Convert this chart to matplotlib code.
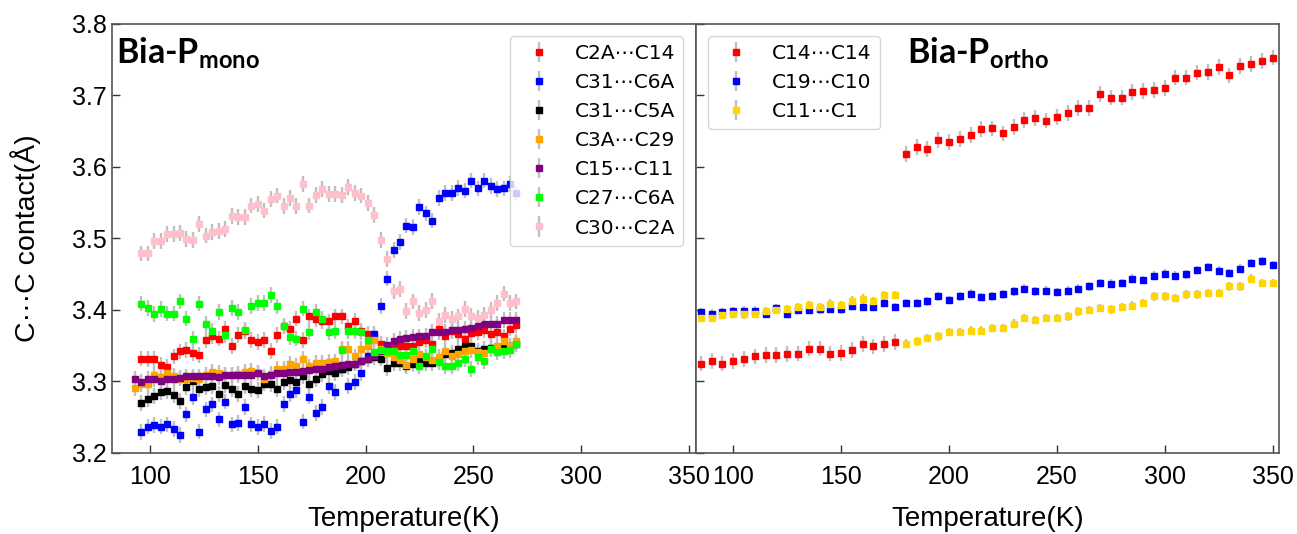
import numpy as np
import matplotlib.pyplot as plt

plt.rcParams["font.family"] = ["Liberation Sans", "DejaVu Sans"]
plt.rcParams["mathtext.fontset"] = "custom"
plt.rcParams["mathtext.rm"] = "Lato"
plt.rcParams["mathtext.bf"] = "Lato:bold"

nan = np.nan

# temperature grids (K)
temp_mono = list(range(93, 271, 3))
temp_ortho = list(range(85, 351, 5))

# Bia-P mono contacts (Angstrom)
c2a_c14 = [nan, 3.332, 3.331, 3.331, 3.323, 3.320, 3.335, 3.342, 3.344, 3.340,
           3.337, 3.358, 3.364, 3.360, 3.373, 3.350, 3.365, 3.370, 3.358, 3.355,
           3.358, 3.343, 3.365, 3.378, 3.373, 3.388, 3.358, 3.391, 3.387, 3.384,
           3.384, 3.391, 3.391, 3.377, 3.385, 3.371, 3.367, 3.362, 3.352, 3.348,
           3.350, 3.350, 3.349, 3.349, 3.355, 3.358, 3.353, 3.374, 3.364, 3.370,
           3.366, 3.359, 3.368, 3.369, 3.372, 3.366, 3.369, 3.363, 3.374, 3.379]
c31_c6a = [nan, 3.229, 3.237, 3.239, 3.237, 3.240, 3.234, 3.225, 3.254, 3.278,
           3.230, 3.261, 3.268, 3.247, 3.272, 3.240, 3.242, 3.264, 3.240, 3.236,
           3.241, 3.231, 3.237, 3.269, 3.282, 3.288, 3.244, 3.279, 3.256, 3.264,
           3.294, 3.285, 3.318, 3.294, 3.299, 3.312, 3.335, 3.366, 3.406, 3.444,
           3.484, 3.495, 3.518, 3.516, 3.544, 3.535, 3.525, 3.557, 3.564, 3.564,
           3.571, 3.567, 3.581, 3.570, 3.581, 3.573, 3.569, 3.570, 3.576, 3.563]
c31_c5a = [nan, 3.270, 3.275, 3.280, 3.285, 3.286, 3.281, 3.273, 3.292, 3.301,
           3.290, 3.292, 3.294, 3.282, 3.295, 3.289, 3.283, 3.294, 3.290, 3.288,
           3.297, 3.296, 3.290, 3.299, 3.302, 3.299, 3.308, 3.297, 3.303, 3.310,
           3.315, 3.312, 3.317, 3.320, 3.325, 3.329, 3.331, 3.334, 3.332, 3.319,
           3.326, 3.326, 3.322, 3.324, 3.329, 3.326, 3.326, 3.330, 3.338, 3.340,
           3.346, 3.349, 3.350, 3.343, 3.346, 3.347, 3.345, 3.348, 3.350, 3.352]
c3a_c29 = [3.291, 3.296, 3.297, 3.309, 3.306, 3.312, 3.308, 3.304, 3.304, 3.305,
           3.304, 3.309, 3.313, 3.312, 3.309, 3.309, 3.311, 3.313, 3.315, 3.312,
           3.304, 3.310, 3.318, 3.318, 3.325, 3.322, 3.331, 3.321, 3.326, 3.326,
           3.327, 3.328, 3.345, 3.345, 3.335, 3.345, 3.349, 3.358, 3.345, 3.340,
           3.334, 3.330, 3.323, 3.331, 3.339, 3.334, 3.330, 3.334, 3.343, 3.335,
           3.338, 3.342, 3.344, 3.341, 3.340, 3.345, 3.350, 3.357, 3.350, 3.356]
c15_c11 = [3.303, 3.299, 3.303, 3.303, 3.301, 3.303, 3.303, 3.305, 3.307, 3.307,
           3.307, 3.307, 3.307, 3.306, 3.309, 3.309, 3.309, 3.309, 3.309, 3.312,
           3.307, 3.309, 3.312, 3.312, 3.313, 3.313, 3.315, 3.316, 3.318, 3.318,
           3.320, 3.322, 3.323, 3.325, 3.325, 3.329, 3.332, 3.335, 3.343, 3.351,
           3.357, 3.360, 3.361, 3.362, 3.363, 3.364, 3.369, 3.369, 3.369, 3.372,
           3.372, 3.374, 3.375, 3.378, 3.380, 3.381, 3.381, 3.386, 3.386, 3.386]
c27_c6a = [nan, 3.409, 3.403, 3.394, 3.401, 3.395, 3.395, 3.412, 3.388, 3.359,
           3.409, 3.380, 3.371, 3.397, 3.365, 3.403, 3.397, 3.372, 3.406, 3.410,
           3.410, 3.421, 3.405, 3.377, 3.362, 3.360, 3.402, 3.369, 3.397, 3.388,
           3.369, 3.371, 3.344, 3.371, 3.371, 3.369, 3.358, 3.341, 3.344, 3.343,
           3.343, 3.337, 3.337, 3.343, 3.322, 3.335, 3.346, 3.327, 3.322, 3.321,
           3.326, 3.331, 3.317, 3.334, 3.328, 3.345, 3.341, 3.343, 3.344, 3.352]
c30_c2a = [nan, 3.479, 3.479, 3.496, 3.496, 3.506, 3.506, 3.508, 3.499, 3.498,
           3.520, 3.504, 3.509, 3.510, 3.513, 3.531, 3.530, 3.530, 3.546, 3.548,
           3.539, 3.555, 3.560, 3.545, 3.557, 3.545, 3.576, 3.546, 3.561, 3.569,
           3.562, 3.562, 3.561, 3.572, 3.564, 3.560, 3.550, 3.533, 3.498, 3.471,
           3.426, 3.429, 3.399, 3.412, 3.396, 3.400, 3.413, 3.385, 3.393, 3.387,
           3.391, 3.401, 3.392, 3.389, 3.393, 3.400, 3.410, 3.423, 3.410, 3.412]

# Bia-P ortho contacts (Angstrom)
c14_c14 = [3.325, 3.329, 3.325, 3.329, 3.331, 3.335, 3.337, 3.337, 3.338, 3.339,
           3.346, 3.346, 3.339, 3.340, 3.344, 3.352, 3.349, 3.352, 3.355, 3.618,
           3.628, 3.625, 3.638, 3.635, 3.639, 3.645, 3.653, 3.654, 3.647, 3.656,
           3.666, 3.669, 3.665, 3.670, 3.676, 3.682, 3.682, 3.702, 3.697, 3.697,
           3.705, 3.706, 3.708, 3.710, 3.725, 3.725, 3.732, 3.733, 3.740, 3.728,
           3.741, 3.744, 3.748, 3.753]
c19_c10 = [3.397, 3.395, 3.397, 3.398, 3.399, 3.399, 3.395, 3.403, 3.395, 3.400,
           3.400, 3.401, 3.402, 3.401, 3.406, 3.404, 3.404, 3.410, 3.404, 3.410,
           3.410, 3.412, 3.419, 3.414, 3.419, 3.423, 3.418, 3.419, 3.422, 3.426,
           3.430, 3.426, 3.427, 3.425, 3.427, 3.430, 3.433, 3.438, 3.437, 3.438,
           3.444, 3.442, 3.448, 3.451, 3.448, 3.450, 3.456, 3.460, 3.455, 3.452,
           3.458, 3.466, 3.468, 3.463]
c11_c1 = [3.389, 3.389, 3.393, 3.395, 3.394, 3.395, 3.398, 3.400, 3.401, 3.404,
          3.407, 3.404, 3.409, 3.407, 3.413, 3.416, 3.412, 3.421, 3.421, 3.353,
          3.356, 3.361, 3.363, 3.369, 3.369, 3.371, 3.371, 3.375, 3.375, 3.381,
          3.389, 3.386, 3.389, 3.389, 3.391, 3.398, 3.400, 3.403, 3.401, 3.404,
          3.406, 3.410, 3.419, 3.419, 3.417, 3.422, 3.422, 3.424, 3.424, 3.433,
          3.433, 3.444, 3.438, 3.438]

mono_series = [
    ("C2A\u22efC14", c2a_c14, "red", 0.011),
    ("C31\u22efC6A", c31_c6a, "blue", 0.011),
    ("C31\u22efC5A", c31_c5a, "black", 0.011),
    ("C3A\u22efC29", c3a_c29, "orange", 0.011),
    ("C15\u22efC11", c15_c11, "purple", 0.011),
    ("C27\u22efC6A", c27_c6a, "lime", 0.011),
    ("C30\u22efC2A", c30_c2a, "pink", 0.011),
]
ortho_series = [
    ("C14\u22efC14", c14_c14, "red", 0.011),
    ("C19\u22efC10", c19_c10, "blue", 0.006),
    ("C11\u22efC1", c11_c1, "gold", 0.006),
]


def draw_panel(ax, temps, series, title, title_x, legend_loc):
    for label, values, color, err in series:
        ax.errorbar(temps, values, yerr=err, fmt="s", ms=4.6, color=color,
                    ecolor="#c0c0c0", elinewidth=1.7, capsize=0, label=label)

    ax.set_xlim(82.5, 353)
    ax.set_ylim(3.2, 3.8)
    ax.set_xticks([100, 150, 200, 250, 300, 350])
    ax.set_yticks([3.2, 3.3, 3.4, 3.5, 3.6, 3.7, 3.8])
    ax.tick_params(direction="in", length=6, width=1, labelsize=18, color="#333333")
    ax.tick_params(axis="x", pad=9)
    ax.tick_params(axis="y", pad=4)
    for spine in ax.spines.values():
        spine.set_color("#555555")
        spine.set_linewidth(1.2)

    ax.set_xlabel("Temperature(K)", fontsize=20, labelpad=12)
    ax.text(title_x, 0.909, title, transform=ax.transAxes, fontsize=24.5,
            fontweight="bold", family="Lato", va="baseline")
    leg = ax.legend(loc=legend_loc, prop={"family": "DejaVu Sans", "size": 14.5},
                    borderaxespad=0.6)
    leg.get_frame().set_edgecolor("#cccccc")


fig, (ax1, ax2) = plt.subplots(1, 2, figsize=(12.97, 5.34), dpi=100, sharey=True)
fig.subplots_adjust(left=0.0864, right=0.9861, top=0.9551, bottom=0.1517, wspace=0)

draw_panel(ax1, temp_mono, mono_series, "Bia-P$_\\mathbf{mono}$", 0.007, "upper right")
draw_panel(ax2, temp_ortho, ortho_series, "Bia-P$_\\mathbf{ortho}$", 0.363, "upper left")

ax1.set_ylabel("C\u00b7\u00b7\u00b7C contact(\u00c5)", fontsize=20.5, labelpad=22)

fig.savefig("out.png", dpi=100)
